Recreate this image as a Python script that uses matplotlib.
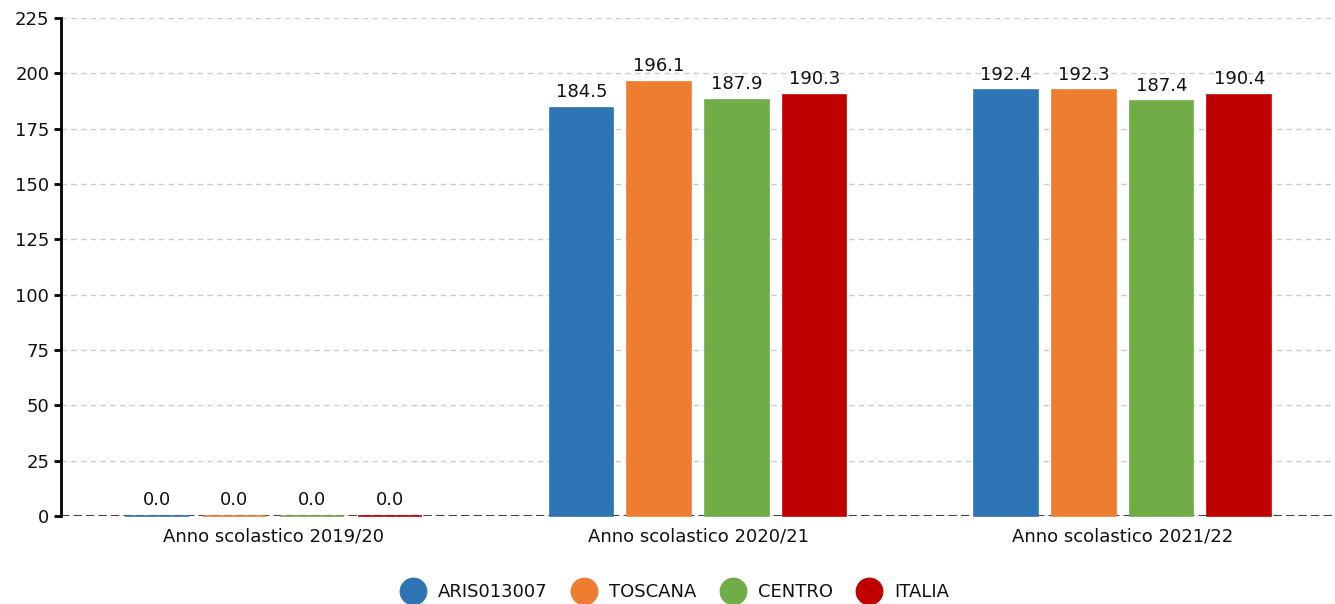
import numpy as np
import matplotlib
matplotlib.use("Agg")
import matplotlib.pyplot as plt
from matplotlib.lines import Line2D

YEARS = ["Anno scolastico 2019/20", "Anno scolastico 2020/21", "Anno scolastico 2021/22"]
SERIES = ["ARIS013007", "TOSCANA", "CENTRO", "ITALIA"]
VALUES = [
    [0.0, 184.5, 192.4],
    [0.0, 196.1, 192.3],
    [0.0, 187.9, 187.4],
    [0.0, 190.3, 190.4],
]
COLORS = ["#2e75b6", "#ed7d31", "#70ad47", "#c00000"]
FS = 13

fig = plt.figure(figsize=(13.35, 6.04), dpi=100)
ax = fig.add_axes([61 / 1335, 1 - 516 / 604, 1274 / 1335, 498 / 604])

x = np.arange(len(YEARS))
width = 0.15
step = 0.183
ax.axhline(0, color="#444444", linestyle=(0, (4, 2)), linewidth=1.5, zorder=2)
for i, (name, vals, col) in enumerate(zip(SERIES, VALUES, COLORS)):
    pos = x + (i - 1.5) * step
    ax.bar(pos, vals, width, color=col, edgecolor=col, linewidth=1.2, zorder=5,
           clip_on=False)
    for p, v in zip(pos, vals):
        ax.text(p, v + 3, "%.1f" % v, ha="center", va="bottom", fontsize=FS,
                color="#111111", zorder=6)

ax.set_xlim(-0.5, 2.5)
ax.set_ylim(0, 225)
ax.set_yticks(np.arange(0, 226, 25))
ax.set_xticks(x)
ax.set_xticklabels(YEARS, fontsize=FS, color="#111111")
ax.tick_params(axis="y", labelsize=FS, labelcolor="#111111", length=5, width=2,
               direction="out")
ax.tick_params(axis="x", length=0, pad=8)

ax.grid(axis="y", color="#cccccc", linestyle=(0, (4, 3)), linewidth=1, zorder=0)
for s in ["top", "right", "bottom"]:
    ax.spines[s].set_visible(False)
ax.spines["left"].set_linewidth(2)

handles = [Line2D([], [], marker="o", linestyle="", markersize=19,
                  markerfacecolor=c, markeredgecolor=c) for c in COLORS]
fig.legend(handles, SERIES, loc="center", bbox_to_anchor=(672 / 1335, 1 - 592 / 604),
           ncol=4, frameon=False, fontsize=FS, handletextpad=0.4,
           columnspacing=1.0, labelcolor="#111111")

fig.savefig("out.png", dpi=100)
